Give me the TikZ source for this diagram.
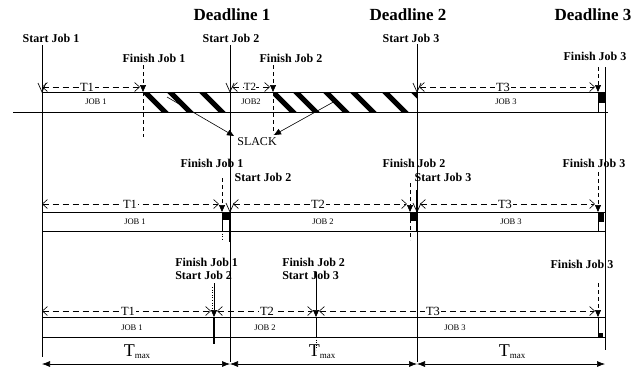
\documentclass[tikz,border=0pt]{standalone}
\usepackage{fontspec}
\setmainfont{Liberation Serif}
\usetikzlibrary{arrows.meta}

\begin{document}
\begin{tikzpicture}[x=1pt,y=-1pt,line width=0.6pt,
  lbl/.style={font=\fontsize{12}{12.5}\selectfont\bfseries,inner sep=0pt},
  deadline/.style={font=\fontsize{17}{17}\selectfont\bfseries,inner sep=0pt},
  jobtxt/.style={font=\fontsize{8.5}{8.5}\selectfont,inner sep=0pt},
  ttxt/.style={font=\fontsize{12.5}{12.5}\selectfont,fill=white,inner sep=1pt},
  tspan/.style={dash pattern=on 6pt off 4pt,
    {Straight Barb[length=5pt,width=9pt]}-{Straight Barb[length=5pt,width=9pt]}},
  finish/.style={dash pattern=on 4pt off 3pt,-{Triangle[length=7pt,width=6pt]}},
  chev/.style={line width=0.7pt},
  tip/.style={-{Triangle[length=7pt,width=6pt]}}]
  \useasboundingbox (0,0) rectangle (635,368);

  % deadlines and start lines
  \node[deadline] (d1) at (232,15) {Deadline 1};
  \node[deadline] (d2) at (408,15) {Deadline 2};
  \node[deadline] (d3) at (593,15) {Deadline 3};
  \coordinate (L0) at (42,45);   \coordinate (L1) at (42,357);
  \coordinate (A0) at (230,45);  \coordinate (A1) at (230,362);
  \coordinate (B0) at (417,44);  \coordinate (B1) at (417,362);
  \coordinate (C0) at (605,67);  \coordinate (C1) at (605,350);
  \draw (L0) -- (L1);
  \draw (A0) -- (A1);
  \draw (B0) -- (B1);
  \draw (C0) -- (C1);

  % ---- row 1 ----
  \node[lbl] (s1a) at (51,38) {Start Job 1};
  \node[lbl] (s2a) at (231,38) {Start Job 2};
  \node[lbl] (s3a) at (411,38) {Start Job 3};
  \node[lbl] (f1a) at (154,58) {Finish Job 1};
  \node[lbl] (f2a) at (291,58) {Finish Job 2};
  \node[lbl] (f3a) at (595,56) {Finish Job 3};
  \begin{scope}
    \clip (143,92) rectangle (230,112);
    \foreach \x in {145,170,202}
      \draw[line width=5pt] (\x-6,86) -- (\x+26,118);
  \end{scope}
  \begin{scope}
    \clip (273,92) rectangle (417,112);
    \foreach \x in {273,296,326,353,385,414}
      \draw[line width=5pt] (\x-6,86) -- (\x+26,118);
  \end{scope}
  \fill (599,92) rectangle (605,103);
  \draw (42,92) -- (605,92);
  \draw (13,112) -- (608,112);
  \draw (598,92) -- (598,112);
  \draw[finish] (143,65) -- (143,92);
  \draw[dash pattern=on 4pt off 3pt] (143,92) -- (143,137);
  \draw[finish] (273,65) -- (273,92);
  \draw[dash pattern=on 4pt off 3pt] (273,92) -- (273,134);
  \draw[finish] (598,67) -- (598,92);
  \draw[tspan] (42,87) -- (140,87);
  \draw[tspan] (232,87) -- (270,87);
  \draw[tspan] (419,87) -- (595,87);
  \node[ttxt] (t1a) at (87,87) {T1};
  \node[ttxt,font=\fontsize{11}{11}\selectfont,inner sep=0pt] (t2a) at (250,87) {T2};
  \node[ttxt] (t3a) at (503,87) {T3};
  \foreach \x in {42,230,417}
    \draw[chev] (\x-4,83) -- (\x,92) -- (\x+4,83);
  \node[jobtxt] (j1a) at (96,102) {JOB 1};
  \node[jobtxt] (j2a) at (251,102) {JOB2};
  \node[jobtxt] (j3a) at (506,102) {JOB 3};
  \node[font=\fontsize{12}{12}\selectfont,inner sep=0pt] (slack) at (257,142) {SLACK};
  \coordinate (h1) at (167,97);
  \coordinate (h2) at (337,100);
  \draw[tip] (h1) -- (234,136);
  \draw[tip] (h2) -- (274,135);

  % ---- row 2 ----
  \node[lbl] (f1b) at (212,163) {Finish Job 1};
  \node[lbl] (s2b) at (263,177) {Start Job 2};
  \node[lbl] (f2b) at (414,163) {Finish Job 2};
  \node[lbl] (s3b) at (443,177) {Start Job 3};
  \node[lbl] (f3b) at (594,163) {Finish Job 3};
  \fill (223,212) rectangle (229,220);
  \fill (410,212) rectangle (416,221);
  \fill (599,212) rectangle (604,222);
  \draw (42,212) -- (605,212);
  \draw (42,231) -- (605,231);
  \draw (222,212) -- (222,231);
  \draw (598,212) -- (598,231);
  \draw[line width=1.4pt] (230,212) -- (230,242);
  \draw[line width=1.4pt] (417,190) -- (417,231);
  \draw[finish] (222,178) -- (222,212);
  \draw[dotted] (222,231) -- (222,239);
  \draw[finish] (410,183) -- (410,212);
  \draw[dash pattern=on 4pt off 3pt] (410,212) -- (410,240);
  \draw[finish] (598,172) -- (598,212);
  \draw[tspan] (42,204) -- (219,204);
  \draw[tspan] (233,204) -- (407,204);
  \draw[tspan] (420,204) -- (595,204);
  \node[ttxt] (t1b) at (130,204) {T1};
  \node[ttxt] (t2b) at (318,204) {T2};
  \node[ttxt] (t3b) at (505,204) {T3};
  \foreach \x in {230,417}
    \draw[chev] (\x-4,203) -- (\x,212) -- (\x+4,203);
  \node[jobtxt] (j1b) at (135,222) {JOB 1};
  \node[jobtxt] (j2b) at (323,222) {JOB 2};
  \node[jobtxt] (j3b) at (511,222) {JOB 3};

  % ---- row 3 ----
  \node[lbl,align=left,anchor=west] (fs1) at (175,269) {Finish Job 1\\Start Job 2};
  \node[lbl,align=left,anchor=west] (fs2) at (282,269) {Finish Job 2\\Start Job 3};
  \node[lbl] (f3c) at (582,264) {Finish Job 3};
  \fill (599,333) rectangle (603,337);
  \draw (42,317) -- (605,317);
  \draw (42,337) -- (605,337);
  \draw (598,317) -- (598,337);
  \draw[tip] (214,283) -- (214,317);
  \draw[line width=1.2pt] (214,317) -- (214,344);
  \draw[dotted] (212,287) -- (212,311);
  \draw[tip] (316,272) -- (316,317);
  \draw (316,317) -- (316,337);
  \draw[dotted] (316,337) -- (316,350);
  \draw[finish] (598,283) -- (598,317);
  \draw[tspan] (42,311) -- (211,311);
  \draw[tspan] (217,311) -- (313,311);
  \draw[tspan] (319,311) -- (595,311);
  \node[ttxt] (t1c) at (128,311) {T1};
  \node[ttxt] (t2c) at (267,311) {T2};
  \node[ttxt] (t3c) at (433,311) {T3};
  \node[jobtxt] (j1c) at (132,328) {JOB 1};
  \node[jobtxt] (j2c) at (265,328) {JOB 2};
  \node[jobtxt] (j3c) at (455,328) {JOB 3};

  % Tmax spans
  \coordinate (m0) at (42,364);
  \coordinate (m1) at (230,364);
  \coordinate (m2) at (417,364);
  \coordinate (m3) at (605,364);
  \foreach \a/\b in {m0/m1,m1/m2,m2/m3}
    \draw[{Latex[length=8pt,width=6pt]}-{Latex[length=8pt,width=6pt]}] (\a) -- (\b);
  \foreach \x/\n in {137/tm1,322/tm2,512/tm3}
    \node[inner sep=0pt] (\n) at (\x,352)
      {\fontsize{18}{18}\selectfont T\raisebox{-2pt}{\fontsize{9}{9}\selectfont max}};
\end{tikzpicture}
\end{document}
